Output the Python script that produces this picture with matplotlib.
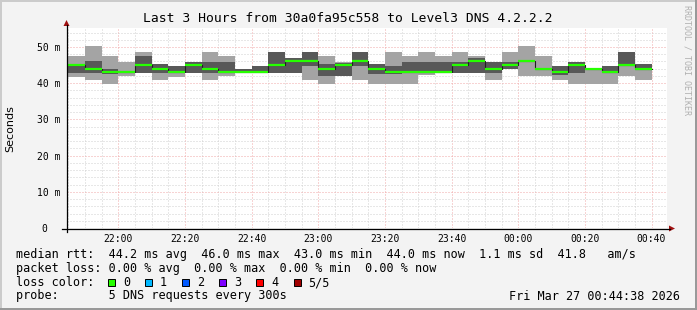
import numpy as np
import matplotlib
matplotlib.use("Agg")
import matplotlib.pyplot as plt
from matplotlib.lines import Line2D
from matplotlib.patches import Rectangle, Polygon

# time axis in minutes after 21:00
t_start = 44 + 38 / 60.0          # 21:44:38
t_end = t_start + 180              # 00:44:38
step_edges = np.arange(45, 221, 5)  # 5 minute steps, 21:45 .. 00:40

# sorted pings per step (5 DNS requests): min, p2, median, p4, max  (ms)
ping_max = [47.4, 50.2, 47.4, 45.9, 48.7, 45.3, 44.8, 45.9, 48.5, 47.4, 43.9, 44.8,
            48.7, 46.9, 48.7, 47.4, 45.9, 48.7, 45.3, 48.7, 47.4, 48.7, 47.4, 48.7,
            47.4, 45.9, 48.7, 50.2, 47.4, 44.8, 45.9, 44.0, 44.8, 48.7, 45.3]
ping_p4 = [45.2, 46.0, 43.9, 43.0, 47.5, 45.3, 44.8, 45.9, 45.9, 45.9, 43.9, 44.8,
           48.7, 46.9, 48.7, 45.3, 45.5, 48.7, 45.3, 44.8, 45.9, 45.9, 45.9, 45.9,
           46.9, 45.9, 45.9, 46.0, 44.0, 44.8, 45.9, 44.0, 44.8, 48.7, 45.3]
median = [45, 44, 43, 43, 45, 44, 43, 45, 44, 43, 43, 43, 45, 46, 46, 44, 45, 46,
          44, 43, 43, 43, 43, 45, 46, 44, 45, 46, 44, 43, 45, 44, 43, 45, 44]
ping_p2 = [42.9, 42.9, 42.6, 43.0, 42.9, 42.9, 42.8, 42.9, 42.9, 42.9, 42.8, 42.8,
           42.9, 42.9, 44.8, 42.0, 42.0, 44.8, 42.6, 42.6, 42.9, 42.9, 42.9, 42.9,
           42.9, 42.9, 44.0, 46.0, 44.0, 42.2, 42.9, 44.0, 42.8, 45.0, 44.0]
ping_min = [41.8, 40.8, 39.7, 42.0, 42.9, 40.8, 41.8, 42.9, 40.8, 42.0, 42.8, 42.8,
            42.9, 42.9, 40.8, 39.9, 42.0, 40.8, 39.9, 39.9, 39.9, 42.2, 42.9, 42.9,
            42.9, 40.8, 44.0, 42.0, 42.0, 40.8, 39.9, 39.9, 39.9, 42.0, 40.8]

x_ticks = [60, 80, 100, 120, 140, 160, 180, 200, 220]
x_labels = ["22:00", "22:20", "22:40", "23:00", "23:20", "23:40", "00:00", "00:20", "00:40"]
y_ticks = [0, 10, 20, 30, 40, 50]
y_labels = ["0  ", "10 m", "20 m", "30 m", "40 m", "50 m"]

title = "Last 3 Hours from 30a0fa95c558 to Level3 DNS 4.2.2.2"
legend_rows = [
    "median rtt:  44.2 ms avg  46.0 ms max  43.0 ms min  44.0 ms now  1.1 ms sd  41.8   am/s",
    "packet loss: 0.00 % avg  0.00 % max  0.00 % min  0.00 % now",
    "loss color:",
    "probe:       5 DNS requests every 300s",
]
loss_labels = ["0", "1", "2", "3", "4", "5/5"]
loss_colors = ["#26ff00", "#00b8ff", "#0059ff", "#7e00ff", "#ff0000", "#a00000"]
date_text = "Fri Mar 27 00:44:38 2026"

W, H = 697, 310


def px(x, y):
    return x / W, 1 - y / H


fig = plt.figure(figsize=(W / 100, H / 100), dpi=100, facecolor="#f3f3f3")
ax = fig.add_axes([67 / W, (H - 228) / H, 600 / W, 200 / H])
ax.set_facecolor("white")
ax.set_xlim(t_start, t_end)
ax.set_ylim(0, 200 / 3.62)

# grid
dot = (0, (1, 2))
for t in np.arange(45, t_end, 5):
    major = (t % 20) == 0
    ax.axvline(t, color="#f0a8a8" if major else "#d0d0d0", lw=0.72, ls=dot, zorder=1)
for v in np.arange(2, 56, 2):
    major = (v % 10) == 0
    ax.axhline(v, color="#f0a8a8" if major else "#d0d0d0", lw=0.72, ls=dot, zorder=1)


def stepvals(a):
    a = np.asarray(a, dtype=float)
    return np.append(a, a[-1])


# smoke
ax.fill_between(step_edges, stepvals(ping_min), stepvals(ping_max), step="post",
                color="#a4a4a4", lw=0, zorder=2)
ax.fill_between(step_edges, stepvals(ping_p2), stepvals(ping_p4), step="post",
                color="#585858", lw=0, zorder=3)
# median
ax.step(step_edges, stepvals(median), where="post", color="#202020", lw=0.8, zorder=4)
ax.hlines(median, step_edges[:-1], step_edges[1:], color=loss_colors[0], lw=1.6, zorder=5)

for s in ax.spines.values():
    s.set_visible(False)
ax.set_xticks(x_ticks)
ax.set_xticklabels(x_labels)
ax.set_yticks(y_ticks)
ax.set_yticklabels(y_labels)
ax.tick_params(length=0, labelsize=7, colors="black")
ax.tick_params(axis="x", pad=4.5)
ax.tick_params(axis="y", pad=5)
for lab in ax.get_xticklabels() + ax.get_yticklabels():
    lab.set_family("DejaVu Sans Mono")

# axis lines with arrows
fig.add_artist(Line2D([px(62, 0)[0], px(670, 0)[0]], [px(0, 228.5)[1]] * 2, color="black", lw=0.9))
fig.add_artist(Line2D([px(66.5, 0)[0]] * 2, [px(0, 232)[1], px(0, 25)[1]], color="black", lw=0.9))
fig.add_artist(Polygon([px(669, 225.5), px(675, 228.5), px(669, 231.5)], closed=True,
                       color="#a01010", lw=0))
fig.add_artist(Polygon([px(63.5, 26), px(66.5, 20), px(69.5, 26)], closed=True,
                       color="#a01010", lw=0))

# frame
fig.add_artist(Rectangle(px(0, 2), 1, 2 / H, color="#cbcbcb", lw=0))
fig.add_artist(Rectangle(px(0, H), 2 / W, 1, color="#cbcbcb", lw=0))
fig.add_artist(Rectangle(px(W - 2, H), 2 / W, 1, color="#999999", lw=0))
fig.add_artist(Rectangle(px(0, H), 1, 2 / H, color="#999999", lw=0))

mono = "DejaVu Sans Mono"
fig.text(*px(347.5, 19), title, ha="center", va="center", fontsize=9.4, family=mono)
fig.text(*px(10, 128.5), "Seconds", rotation=90, ha="center", va="center", fontsize=8,
         family="DejaVu Sans")
fig.text(*px(687, 60), "RRDTOOL / TOBI OETIKER", rotation=270, ha="center", va="center",
         fontsize=6, family=mono, color="#b0b0b0")

row_y = [254.3, 268.3, 282.7, 296]
for txt, yy in zip(legend_rows, row_y):
    fig.text(*px(16, yy), txt, ha="left", va="center", fontsize=8.45, family=mono)
fig.text(*px(680, row_y[3]), date_text, ha="right", va="center", fontsize=8.45, family=mono)

for i, (lab, col) in enumerate(zip(loss_labels, loss_colors)):
    bx = 108 + i * 37.1
    fig.add_artist(Rectangle(px(bx, row_y[2] + 3.5), 7 / W, 7 / H, facecolor=col,
                             edgecolor="black", lw=0.7))
    fig.text(*px(bx + 15, row_y[2]), lab, ha="left", va="center", fontsize=8.45, family=mono)

fig.savefig("out.png", dpi=100, facecolor=fig.get_facecolor())
